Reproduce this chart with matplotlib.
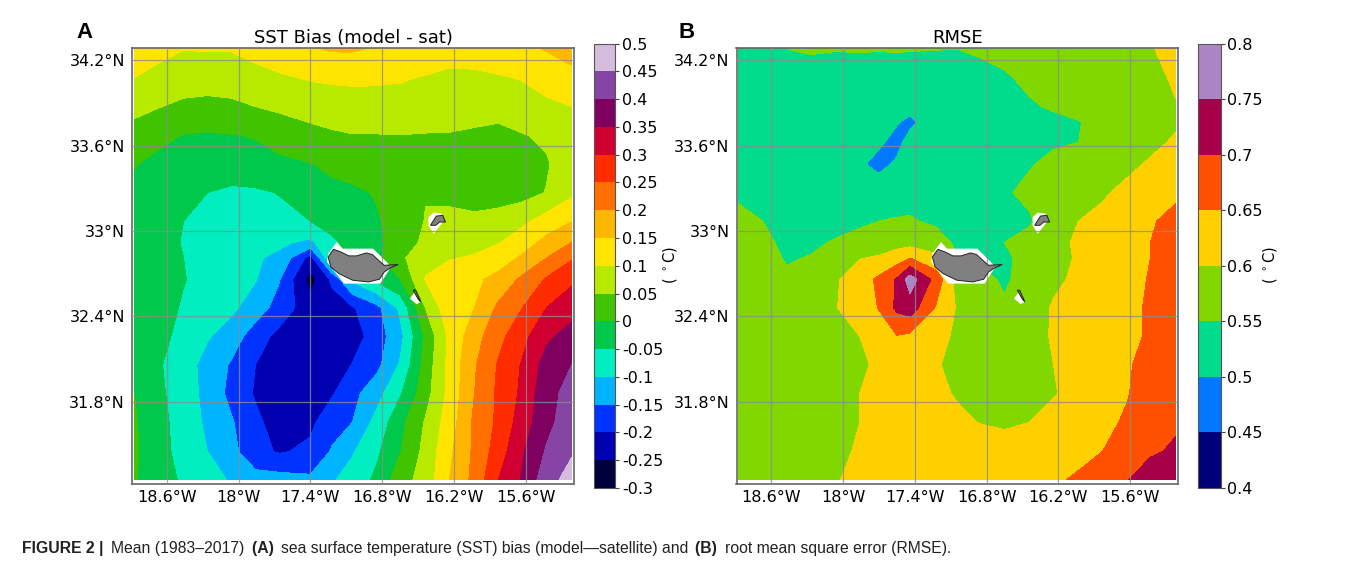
import numpy as np
import matplotlib
matplotlib.use("Agg")
import matplotlib.pyplot as plt

W, H = 1357, 569

# ---- panel A grid
lon_a = [-18.87, -18.67, -18.46, -18.26, -18.06, -17.86, -17.66, -17.40, -17.22, -17.05,
         -16.85, -16.65, -16.44, -16.24, -16.03, -15.83, -15.63, -15.43, -15.22]
lat_a = [34.28, 34.08, 33.875, 33.67, 33.47, 33.27, 33.07, 32.92, 32.81, 32.66,
         32.46, 32.26, 32.06, 31.86, 31.655, 31.45, 31.25]
bias = [
    [.115, .11, .101, .103, .103, .115, .125, .145, .155, .155, .145, .14, .135, .13, .13, .135, .14, .153, .17],
    [.10, .09, .075, .075, .075, .085, .095, .104, .108, .11, .108, .105, .097, .085, .088, .096, .103, .12, .135],
    [.06, .052, .04, .035, .04, .05, .06, .072, .076, .078, .08, .08, .08, .08, .075, .07, .08, .09, .10],
    [.036, .012, -.002, -.005, -.002, .002, .015, .033, .043, .048, .048, .049, .047, .046, .04, .035, .047, .058, .08],
    [.002, -.012, -.02, -.025, -.02, -.012, -.008, -.002, .01, .018, .028, .03, .032, .032, .03, .028, .03, .045, .08],
    [-.01, -.025, -.04, -.05, -.06, -.058, -.048, -.022, -.012, -.008, .003, .03, .048, .042, .025, .02, .03, .052, .09],
    [-.02, -.035, -.05, -.065, -.07, -.07, -.065, -.05, -.03, -.02, -.005, .02, .052, .058, .062, .075, .09, .12, .148],
    [-.022, -.038, -.052, -.07, -.08, -.085, -.092, -.11, -.06, -.03, -.01, .02, .062, .075, .085, .097, .125, .165, .2],
    [-.025, -.04, -.05, -.075, -.085, -.095, -.11, -.22, -.05, -.04, -.015, .04, .085, .097, .105, .125, .158, .2, .245],
    [-.02, -.035, -.048, -.065, -.08, -.097, -.147, -.27, -.19, -.09, -.04, 0, .103, .125, .14, .165, .21, .255, .29],
    [-.015, -.03, -.055, -.065, -.09, -.125, -.17, -.23, -.225, -.205, -.165, -.09, .05, .135, .15, .21, .25, .30, .33],
    [-.015, -.03, -.07, -.095, -.125, -.175, -.215, -.235, -.235, -.225, -.175, -.115, .01, .11, .18, .235, .285, .34, .37],
    [-.015, -.045, -.075, -.12, -.155, -.2, -.24, -.24, -.235, -.198, -.165, -.095, .02, .115, .195, .255, .305, .37, .40],
    [0, -.04, -.075, -.115, -.165, -.205, -.23, -.225, -.205, -.165, -.12, -.055, .03, .115, .2, .26, .31, .385, .415],
    [.005, -.035, -.07, -.11, -.145, -.19, -.22, -.21, -.17, -.15, -.085, -.015, .055, .125, .21, .26, .325, .385, .43],
    [.007, -.03, -.07, -.1, -.135, -.185, -.205, -.19, -.145, -.105, -.06, -.002, .065, .14, .21, .275, .345, .405, .445],
    [.005, -.035, -.055, -.08, -.105, -.13, -.13, -.14, -.105, -.08, -.04, .03, .07, .15, .215, .3, .355, .43, .47],
]

# ---- panel B grid
lon_b = [-18.87, -18.67, -18.47, -18.27, -18.06, -17.86, -17.70, -17.55, -17.44, -17.22,
         -17.05, -16.85, -16.65, -16.44, -16.24, -16.03, -15.83, -15.63, -15.43, -15.22]
lat_b = [34.28, 34.08, 33.875, 33.765, 33.625, 33.47, 33.27, 33.07, 32.92, 32.81, 32.66,
         32.46, 32.26, 32.06, 31.86, 31.655, 31.45, 31.25]
rmse = [
    [.53, .535, .55, .555, .552, .553, .552, .553, .552, .551, .55, .557, .565, .575, .58, .585, .59, .595, .598, .61],
    [.525, .525, .53, .53, .53, .53, .53, .53, .53, .53, .53, .535, .545, .56, .57, .575, .58, .585, .59, .605],
    [.52, .52, .525, .52, .52, .52, .515, .515, .52, .525, .53, .535, .54, .545, .555, .565, .575, .58, .59, .598],
    [.52, .52, .52, .515, .515, .515, .51, .505, .485, .54, .525, .53, .535, .54, .54, .548, .565, .575, .585, .595],
    [.52, .52, .52, .52, .515, .515, .51, .48, .525, .525, .525, .53, .535, .54, .545, .55, .565, .58, .59, .605],
    [.525, .52, .52, .52, .515, .51, .48, .51, .52, .525, .53, .535, .54, .547, .56, .57, .58, .59, .605, .625],
    [.54, .53, .525, .525, .525, .525, .54, .53, .53, .53, .535, .54, .545, .56, .57, .58, .595, .61, .62, .64],
    [.565, .55, .53, .525, .53, .54, .55, .553, .555, .54, .535, .535, .535, .545, .58, .6, .61, .625, .645, .665],
    [.57, .56, .54, .54, .555, .57, .575, .58, .58, .575, .54, .535, .55, .565, .59, .605, .61, .625, .65, .67],
    [.575, .57, .545, .553, .575, .598, .605, .625, .65, .61, .555, .545, .545, .56, .585, .605, .61, .62, .65, .67],
    [.565, .57, .56, .565, .595, .625, .66, .705, .775, .68, .58, .56, .545, .565, .59, .61, .615, .625, .655, .67],
    [.57, .57, .57, .575, .598, .625, .652, .71, .725, .645, .597, .575, .555, .575, .605, .62, .63, .64, .655, .67],
    [.57, .57, .57, .575, .585, .6, .625, .648, .64, .61, .595, .575, .57, .58, .605, .62, .63, .64, .655, .67],
    [.57, .57, .57, .575, .58, .59, .61, .62, .615, .603, .59, .58, .575, .58, .6, .62, .63, .645, .665, .675],
    [.57, .57, .575, .58, .585, .6, .615, .62, .615, .605, .598, .58, .575, .585, .597, .615, .63, .647, .67, .685],
    [.57, .57, .575, .58, .585, .6, .615, .62, .62, .615, .605, .599, .595, .6, .615, .63, .64, .655, .68, .695],
    [.57, .57, .575, .58, .58, .61, .62, .625, .625, .625, .62, .615, .615, .62, .63, .64, .65, .675, .695, .705],
    [.57, .57, .575, .575, .595, .62, .625, .63, .63, .63, .63, .63, .63, .635, .645, .655, .675, .698, .72, .73],
]

bias_levels = [-.3, -.25, -.2, -.15, -.1, -.05, 0, .05, .1, .15, .2, .25, .3, .35, .4, .45, .5]
bias_labels = ["-0.3", "-0.25", "-0.2", "-0.15", "-0.1", "-0.05", "0", "0.05", "0.1", "0.15",
               "0.2", "0.25", "0.3", "0.35", "0.4", "0.45", "0.5"]
bias_colors = ["#00003c", "#0000b0", "#0033ff", "#00b4ff", "#00eec0", "#00c84a", "#40c400", "#b8ea00",
               "#ffe400", "#ffb600", "#ff7000", "#ff2c00", "#d00030", "#800060", "#8644a4", "#d4bcdc"]
rmse_levels = [.4, .45, .5, .55, .6, .65, .7, .75, .8]
rmse_labels = ["0.4", "0.45", "0.5", "0.55", "0.6", "0.65", "0.7", "0.75", "0.8"]
rmse_colors = ["#000078", "#0078ff", "#00dc8c", "#80d800", "#ffd000", "#ff5000", "#a80048", "#ac86c4"]

lon_ticks = [-18.6, -18, -17.4, -16.8, -16.2, -15.6]
lon_ticklabels = ["18.6°W", "18°W", "17.4°W", "16.8°W", "16.2°W", "15.6°W"]
lat_ticks = [31.8, 32.4, 33, 33.6, 34.2]
lat_ticklabels = ["31.8°N", "32.4°N", "33°N", "33.6°N", "34.2°N"]

# coastlines, lon then lat
madeira_lon = [-17.253, -17.207, -17.147, -17.081, -17.015, -16.933, -16.883, -16.817, -16.784, -16.669,
               -16.735, -16.784, -16.824, -16.916, -17.048, -17.164, -17.230]
madeira_lat = [32.818, 32.871, 32.853, 32.825, 32.825, 32.846, 32.834, 32.783, 32.759, 32.764,
               32.740, 32.712, 32.661, 32.642, 32.654, 32.701, 32.747]
madeira_gap_lon = [-17.180, -17.131, -16.877, -16.751, -16.735, -16.817, -17.121, -17.263, -17.253]
madeira_gap_lat = [32.923, 32.876, 32.876, 32.771, 32.736, 32.630, 32.630, 32.783, 32.841]
porto_lon = [-16.398, -16.372, -16.349, -16.296, -16.273, -16.322, -16.355]
porto_lat = [33.04, 33.075, 33.105, 33.11, 33.063, 33.063, 33.04]
porto_gap_lon = [-16.372, -16.306, -16.283, -16.372, -16.415, -16.415]
porto_gap_lat = [33.129, 33.122, 33.075, 32.981, 33.04, 33.098]
desertas_lon = [-16.543, -16.523, -16.48, -16.50]
desertas_lat = [32.584, 32.584, 32.502, 32.52]
desertas_gap_lon = [-16.57, -16.53, -16.48, -16.514]
desertas_gap_lat = [32.525, 32.572, 32.502, 32.485]

plt.rcParams["font.family"] = "DejaVu Sans"
fig = plt.figure(figsize=(W / 100, H / 100), dpi=100)


def px_axes(left, top, right, bottom):
    return fig.add_axes([left / W, 1 - bottom / H, (right - left) / W, (bottom - top) / H])


def draw_panel(box, cbox, lon, lat, vals, levels, labels, colors, title, label_x):
    ax = px_axes(*box)
    cf = ax.contourf(lon, lat, np.array(vals), levels=levels, colors=colors, zorder=1)
    for xs, ys in [(madeira_gap_lon, madeira_gap_lat), (porto_gap_lon, porto_gap_lat),
                   (desertas_gap_lon, desertas_gap_lat)]:
        ax.fill(xs, ys, color="white", lw=0, zorder=2)
    for xs, ys in [(madeira_lon, madeira_lat), (porto_lon, porto_lat), (desertas_lon, desertas_lat)]:
        ax.fill(xs, ys, facecolor="#808080", edgecolor="#222222", lw=0.7, zorder=3)
    ax.set_xlim(-18.89, -15.2)
    ax.set_ylim(31.225, 34.29)
    ax.set_xticks(lon_ticks, lon_ticklabels)
    ax.set_yticks(lat_ticks, lat_ticklabels)
    ax.tick_params(length=0, labelsize=11.5, pad=5)
    ax.grid(True, color="#8c8c8c", lw=0.9, alpha=0.8, zorder=4)
    ax.set_axisbelow(False)
    for s in ax.spines.values():
        s.set_color("#666666")
        s.set_linewidth(1.2)
    ax.set_title(title, fontsize=13, pad=3)

    cax = px_axes(*cbox)
    cb = fig.colorbar(cf, cax=cax, ticks=levels)
    cb.ax.set_yticklabels(labels)
    cb.ax.tick_params(labelsize=11.5, length=3, width=0.8, pad=2, color="#444444")
    cb.outline.set_edgecolor("#555555")
    fig.text(label_x / W, 1 - 265 / H, r"( $^\circ$C)", rotation=90, fontsize=10.5,
             ha="center", va="center")


draw_panel((132, 47.5, 574, 483.5), (593.5, 43.5, 615, 488), lon_a, lat_a, bias, bias_levels,
           bias_labels, bias_colors, "SST Bias (model - sat)", 670)
draw_panel((736.5, 47.5, 1178, 483.5), (1198, 43.5, 1220.5, 488), lon_b, lat_b, rmse, rmse_levels,
           rmse_labels, rmse_colors, "RMSE", 1270)

fig.text(76 / W, 1 - 32 / H, "A", family="Liberation Sans", weight="bold", fontsize=16, ha="left", va="center")
fig.text(678 / W, 1 - 32 / H, "B", family="Liberation Sans", weight="bold", fontsize=16, ha="left", va="center")

# caption, regular and bold pieces one after the other
caption = [("FIGURE 2 | ", "bold"), ("Mean (1983–2017) ", "normal"), ("(A) ", "bold"),
           ("sea surface temperature (SST) bias (model—satellite) and ", "normal"), ("(B) ", "bold"),
           ("root mean square error (RMSE).", "normal")]
x = 22
fig.canvas.draw()
for piece, w in caption:
    t = fig.text(x / W, 1 - 549 / H, piece, family="Liberation Sans", weight=w, fontsize=11.3,
                 color="#222222", va="center", ha="left")
    bb = t.get_window_extent()
    x += bb.width + (3.0 if piece.endswith(" ") else 0)

fig.savefig("out.png", dpi=100)
